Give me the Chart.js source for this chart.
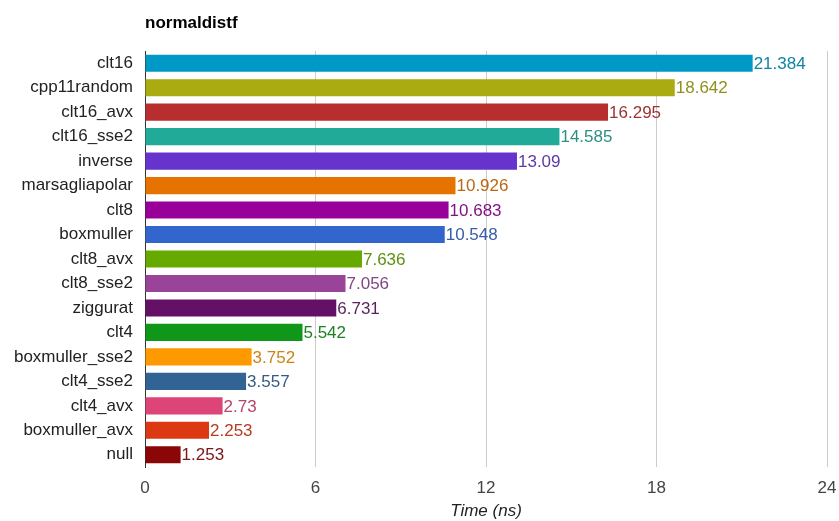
<!DOCTYPE html>
<html>
<head>
<meta charset="utf-8">
<script src="https://cdn.jsdelivr.net/npm/chart.js@4.4.0/dist/chart.umd.min.js"></script>
<style>
html,body{margin:0;padding:0;background:#fff;}
#wrap{width:839px;height:521px;position:relative;}
</style>
</head>
<body>
<div id="wrap"><canvas id="c" width="839" height="521"></canvas></div>
<script>
const categories = ["clt16","cpp11random","clt16_avx","clt16_sse2","inverse","marsagliapolar","clt8","boxmuller","clt8_avx","clt8_sse2","ziggurat","clt4","boxmuller_sse2","clt4_sse2","clt4_avx","boxmuller_avx","null"];
const times = [21.384,18.642,16.295,14.585,13.09,10.926,10.683,10.548,7.636,7.056,6.731,5.542,3.752,3.557,2.73,2.253,1.253];
const xTicks = [0,6,12,18,24];
const barColors = ["#0099C6","#AAAA11","#B82E2E","#22AA99","#6633CC","#E67300","#990099","#3366CC","#66AA00","#994499","#651067","#109618","#FF9900","#316395","#DD4477","#DC3912","#8B0707"];

function muted(hex){
  const n = parseInt(hex.slice(1),16);
  const ch = [(n>>16)&255, (n>>8)&255, n&255].map(v => Math.round(v*0.74 + 70*0.26));
  return `rgb(${ch[0]},${ch[1]},${ch[2]})`;
}
const labelColors = barColors.map(muted);
const FONT = "'Liberation Sans', Arial, sans-serif";

const valueLabels = {
  id: 'valueLabels',
  afterDatasetsDraw(chart){
    const ctx = chart.ctx;
    const meta = chart.getDatasetMeta(0);
    ctx.save();
    ctx.font = `17px ${FONT}`;
    ctx.textBaseline = 'middle';
    ctx.textAlign = 'left';
    meta.data.forEach((el, i) => {
      ctx.fillStyle = labelColors[i];
      ctx.fillText(String(times[i]), el.x + 1, el.y + 1);
    });
    ctx.restore();
  }
};
const titlePlugin = {
  id: 'titlePlugin',
  afterDraw(chart){
    const ctx = chart.ctx;
    ctx.save();
    ctx.font = `bold 17px ${FONT}`;
    ctx.fillStyle = '#000';
    ctx.textBaseline = 'alphabetic';
    ctx.textAlign = 'left';
    ctx.fillText('normaldistf', chart.chartArea.left, 28);
    ctx.restore();
  }
};

new Chart(document.getElementById('c'), {
  type: 'bar',
  data: {
    labels: categories,
    datasets: [{
      data: times,
      backgroundColor: barColors,
      borderWidth: 0,
      barPercentage: 0.7,
      categoryPercentage: 1.0
    }]
  },
  options: {
    indexAxis: 'y',
    responsive: false,
    animation: false,
    layout: { padding: { top: 51, right: 12, left: 0, bottom: 0 } },
    plugins: { legend: { display: false }, tooltip: { enabled: false }, title: { display: false } },
    scales: {
      x: {
        type: 'linear',
        min: 0, max: 24,
        afterBuildTicks(s){ s.ticks = xTicks.map(v => ({value: v})); },
        afterFit(s){ s.height = 54; s.paddingLeft = 0; s.paddingRight = 0; },
        grid: {
          color: ctx => ctx.index === 0 ? 'rgba(0,0,0,0)' : '#cccccc',
          drawTicks: false,
          lineWidth: 1
        },
        border: { display: false },
        ticks: { color: '#444', font: { family: FONT, size: 17 }, padding: 11, maxRotation: 0 },
        title: { display: true, text: 'Time (ns)', color: '#222', font: { family: FONT, size: 17, style: 'italic' }, padding: { top: 2, bottom: 0 } }
      },
      y: {
        afterFit(s){ s.width = 145; s.paddingTop = 0; s.paddingBottom = 0; },
        grid: { display: false, drawTicks: false },
        border: { display: true, color: '#333', width: 1 },
        ticks: { color: '#222', font: { family: FONT, size: 17 }, padding: 12, autoSkip: false }
      }
    }
  },
  plugins: [valueLabels, titlePlugin]
});
</script>
</body>
</html>
